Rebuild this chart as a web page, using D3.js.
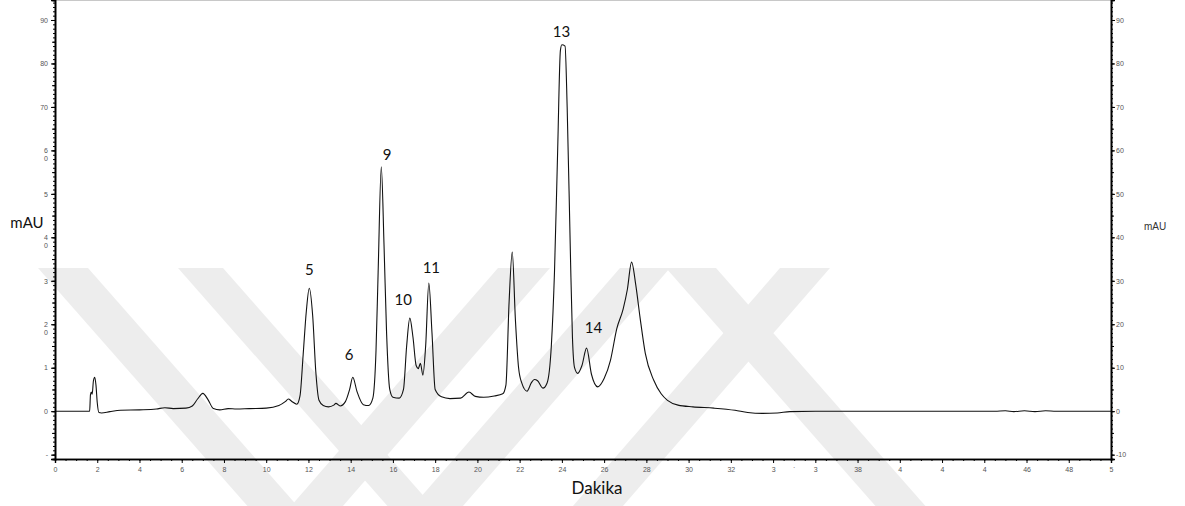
<!DOCTYPE html>
<html>
<head>
<meta charset="utf-8">
<script src="https://cdn.jsdelivr.net/npm/d3@7"></script>
<style>
  body { margin: 0; background: #fff; }
  svg text { font-family: "Liberation Sans", Arial, sans-serif; }
</style>
</head>
<body>
<div id="canvas"></div>
<script>
// chromatogram trace (minutes, mAU)
const time = [0, 1.64, 1.68, 1.72, 1.76, 1.82, 1.88, 1.94, 2.0, 2.08, 2.2, 2.6, 3.1, 4.0, 4.8, 5.2, 5.6, 6.2,
  6.5, 6.75, 7.0, 7.25, 7.5, 7.8, 8.2, 8.6, 9.2, 10.0, 10.6, 10.9, 11.05, 11.2, 11.45, 11.6, 11.75, 11.9,
  12.04, 12.2, 12.35, 12.5, 12.7, 12.95, 13.2, 13.3, 13.5, 13.75, 13.95, 14.1, 14.3, 14.6, 14.85, 15.05,
  15.2, 15.3, 15.45, 15.58, 15.7, 15.85, 16.0, 16.3, 16.5, 16.65, 16.8, 16.95, 17.1, 17.2, 17.3, 17.42,
  17.55, 17.7, 17.85, 18.0, 18.3, 18.7, 19.2, 19.6, 19.9, 20.3, 20.8, 21.2, 21.35, 21.5, 21.65, 21.8,
  21.95, 22.1, 22.35, 22.55, 22.7, 22.85, 23.1, 23.3, 23.5, 23.65, 23.8, 23.93, 24.0, 24.15, 24.25, 24.4,
  24.5, 24.6, 24.75, 24.95, 25.17, 25.4, 25.7, 26.0, 26.3, 26.6, 26.9, 27.1, 27.3, 27.5, 27.7, 27.95,
  28.35, 28.7, 29.0, 29.5, 30.2, 31.2, 32.2, 32.8, 33.5, 34.2, 34.8, 36, 40, 44.5, 45.0, 45.4, 45.9,
  46.4, 46.9, 47.4, 50];
const mau = [0, 0, 3.8, 4.4, 3.9, 7.0, 7.8, 6.0, 2.0, -0.3, -0.4, -0.1, 0.2, 0.3, 0.5, 0.8, 0.6, 0.7,
  1.2, 2.8, 4.1, 2.6, 0.6, 0.3, 0.6, 0.5, 0.6, 0.7, 1.3, 2.2, 2.8, 2.3, 1.6, 3.5, 13, 23,
  28.3, 22, 9, 2.5, 1.3, 1.0, 1.4, 1.8, 1.2, 2.2, 5.0, 7.8, 4.5, 1.5, 1.3, 3.0,
  14, 32, 56.2, 38, 18, 5, 3.2, 3.0, 5, 15, 21.4, 17, 10.5, 9.8, 11.0, 8.3,
  15, 29.5, 18, 5, 3.3, 2.9, 3.0, 4.4, 3.4, 3.2, 3.5, 4.0, 6, 25, 36.6, 21,
  10, 6.5, 4.6, 6.5, 7.3, 7.0, 5.3, 6.5, 15, 32, 60, 83, 84.3, 84.0, 70, 37,
  17, 10, 8.7, 10.5, 14.5, 8.5, 5.6, 7.5, 11.7, 19, 23.5, 28, 34.3, 29, 21.6, 13.3,
  7.1, 4.0, 2.5, 1.4, 1.0, 0.7, 0.2, -0.3, -0.5, -0.4, -0.1, 0, 0, 0, 0.1, -0.1, 0.1,
  -0.1, 0.1, 0, 0];

// peak numbers and where their labels sit (minutes, mAU)
const peakNames = ["5", "6", "9", "10", "11", "13", "14"];
const peakLabelT = [12.04, 13.93, 15.73, 16.49, 17.82, 23.98, 25.5];
const peakLabelV = [32.5, 12.9, 58.9, 25.6, 32.9, 87.2, 19.3];

// bottom tick labels, as printed (several are clipped in the original)
const xTickValues = d3.range(0, 51, 2);
const xTickText = ["0", "2", "4", "6", "8", "10", "12", "14", "16", "18", "20", "22", "24", "26", "28",
  "30", "32", "3", "3", "38", "4", "4", "4", "46", "48", "5"];

// left axis labels, as printed (some are split over two lines)
const yTickValues = [-10, 0, 10, 20, 30, 40, 50, 60, 70, 80, 90];
const yLeftText = ["-", "0", "1", "2\n0", "3", "4\n0", "5", "6\n0", "70", "80", "90"];
const yRightText = ["-10", "0", "10", "20", "30", "40", "50", "60", "70", "80", "90"];

// faint background stamp: diagonal stripes (x of left edge at the top, width, slant)
const stampX = [38, 178, 498, 620, 666, 780];
const stampW = [50, 45, 52, 50, 50, 50];
const stampSlant = [0.88, 0.88, -0.87, -0.87, 0.88, -0.87];

const width = 1185;
const height = 506;
const margin = { top: 0, left: 55, bottom: 47, right: 74 };

const svg = d3.select("#canvas").append("svg")
  .attr("width", width)
  .attr("height", height);

// stamp goes first so everything else sits on top
const stampTop = 268;
svg.append("g").selectAll("path")
  .data(stampX)
  .join("path")
  .attr("fill", "#ededed")
  .attr("d", (d, i) => {
    const dx = stampSlant[i] * (height - stampTop);
    return `M${d},${stampTop}L${d + stampW[i]},${stampTop}L${d + stampW[i] + dx},${height}L${d + dx},${height}Z`;
  });

const x = d3.scaleLinear()
  .domain([0, 50])
  .range([margin.left, width - margin.right]);

const y = d3.scaleLinear()
  .domain([-11, 94.6])
  .range([height - margin.bottom, margin.top]);

const data = time.map((t, i) => ({ t: t, v: mau[i] }));

// top frame
svg.append("line")
  .attr("x1", x(0)).attr("x2", x(50))
  .attr("y1", 0.5).attr("y2", 0.5)
  .attr("stroke", "#c8c8c8");

// trace
const line = d3.line()
  .x(d => x(d.t))
  .y(d => y(d.v))
  .curve(d3.curveMonotoneX);

svg.append("path")
  .datum(data)
  .attr("fill", "none")
  .attr("stroke", "#111")
  .attr("stroke-width", 1.1)
  .attr("d", line);

// axes
const tickGrey = "#555";

function styleAxis(g) {
  g.select(".domain").attr("stroke", "#000").attr("stroke-width", 1.4);
  g.selectAll(".tick line").attr("stroke", "#000");
}

// bottom minor ticks
svg.append("g")
  .attr("transform", `translate(0,${y(-11)})`)
  .call(d3.axisBottom(x).tickValues(d3.range(0, 50.01, 0.5)).tickSize(2).tickFormat(""))
  .call(styleAxis);

const xAxis = svg.append("g")
  .attr("transform", `translate(0,${y(-11)})`)
  .call(d3.axisBottom(x).tickValues(xTickValues).tickSize(4).tickPadding(4)
    .tickFormat((d, i) => xTickText[i]))
  .call(styleAxis);
xAxis.selectAll("text").attr("fill", tickGrey).attr("font-size", 7);

// stray dot between 34 and 36
svg.append("text")
  .attr("x", x(35)).attr("y", y(-11) + 11)
  .attr("text-anchor", "middle")
  .attr("font-size", 7).attr("fill", tickGrey)
  .text("·");

// left axis
svg.append("g")
  .attr("transform", `translate(${x(0)},0)`)
  .call(d3.axisLeft(y).tickValues(d3.range(-11, 94.6, 1)).tickSize(2).tickFormat(""))
  .call(styleAxis);

svg.append("g")
  .attr("transform", `translate(${x(0)},0)`)
  .call(d3.axisLeft(y).tickValues(d3.range(-10, 94.6, 5)).tickSize(3).tickFormat(""))
  .call(styleAxis);

const yLeft = svg.append("g")
  .attr("transform", `translate(${x(0)},0)`)
  .call(d3.axisLeft(y).tickValues(yTickValues).tickSize(4).tickPadding(3).tickFormat(""))
  .call(styleAxis);

yLeft.selectAll(".tick").each(function (d, i) {
  const parts = yLeftText[i].split("\n");
  const t = d3.select(this).append("text")
    .attr("x", -7)
    .attr("text-anchor", "end")
    .attr("font-size", 7)
    .attr("fill", tickGrey);
  parts.forEach((p, k) => {
    t.append("tspan")
      .attr("x", -7)
      .attr("y", k * 8)
      .attr("dy", "0.32em")
      .text(p);
  });
});

// right axis
svg.append("g")
  .attr("transform", `translate(${x(50)},0)`)
  .call(d3.axisRight(y).tickValues(d3.range(-11, 94.6, 1)).tickSize(2).tickFormat(""))
  .call(styleAxis);

svg.append("g")
  .attr("transform", `translate(${x(50)},0)`)
  .call(d3.axisRight(y).tickValues(d3.range(-10, 94.6, 5)).tickSize(3).tickFormat(""))
  .call(styleAxis);

const yRight = svg.append("g")
  .attr("transform", `translate(${x(50)},0)`)
  .call(d3.axisRight(y).tickValues(yTickValues).tickSize(4).tickPadding(1)
    .tickFormat((d, i) => yRightText[i]))
  .call(styleAxis);
yRight.selectAll("text").attr("fill", tickGrey).attr("font-size", 7);

// axis titles
svg.append("text")
  .attr("x", 27).attr("y", 223)
  .attr("dy", "0.35em")
  .attr("text-anchor", "middle")
  .attr("font-size", 15)
  .attr("fill", "#111")
  .style("font-family", "Lato, 'Open Sans', sans-serif")
  .text("mAU");

svg.append("text")
  .attr("x", 1155).attr("y", 226)
  .attr("dy", "0.35em")
  .attr("text-anchor", "middle")
  .attr("font-size", 10)
  .attr("fill", "#333")
  .text("mAU");

svg.append("text")
  .attr("x", 597).attr("y", 488)
  .attr("dy", "0.35em")
  .attr("text-anchor", "middle")
  .attr("font-size", 17)
  .attr("fill", "#111")
  .style("font-family", "Lato, 'Open Sans', sans-serif")
  .text("Dakika");

// peak numbers
svg.append("g").selectAll("text")
  .data(peakNames)
  .join("text")
  .attr("x", (d, i) => x(peakLabelT[i]))
  .attr("y", (d, i) => y(peakLabelV[i]))
  .attr("dy", "0.35em")
  .attr("text-anchor", "middle")
  .attr("font-size", 15)
  .attr("fill", "#111")
  .style("font-family", "Lato, 'Open Sans', sans-serif")
  .text(d => d);
</script>
</body>
</html>
